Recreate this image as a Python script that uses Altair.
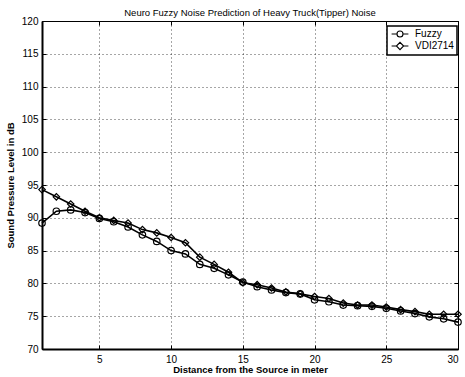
import altair as alt
import pandas as pd

distance = list(range(1, 31))
fuzzy = [89.2, 91.0, 91.2, 90.8, 89.9, 89.4, 88.6, 87.4, 86.4, 85.0,
         84.5, 82.9, 82.3, 81.3, 80.2, 79.5, 79.0, 78.6, 78.4, 77.5,
         77.2, 76.7, 76.6, 76.5, 76.2, 75.8, 75.4, 74.9, 74.6, 74.1]
vdi = [94.3, 93.2, 92.1, 91.0, 90.0, 89.6, 89.2, 88.2, 87.7, 87.0,
       86.2, 84.0, 82.9, 81.7, 80.1, 79.8, 79.3, 78.7, 78.4, 78.0,
       77.7, 77.0, 76.7, 76.7, 76.4, 76.0, 75.7, 75.3, 75.3, 75.3]
series_names = ["Fuzzy", "VDI2714"]
x_ticks = [5, 10, 15, 20, 25, 30]
y_ticks = [70, 75, 80, 85, 90, 95, 100, 105, 110, 115, 120]

rows = []
for i, d in enumerate(distance):
    rows.append({"d": d, "v": fuzzy[i], "s": series_names[0]})
    rows.append({"d": d, "v": vdi[i], "s": series_names[1]})
df = pd.DataFrame(rows)

FONT = "Liberation Sans"
xs = alt.Scale(domain=[1, 30], nice=False, zero=False)
ys = alt.Scale(domain=[70, 120], nice=False, zero=False)

base = alt.Chart(df)

# main layer with labelled axes, grid and domain
lines = base.mark_line(color="black", strokeWidth=1.6).encode(
    x=alt.X("d:Q", scale=xs, axis=alt.Axis(values=x_ticks, orient="bottom",
                                           title="Distance from the Source in meter")),
    y=alt.Y("v:Q", scale=ys, axis=alt.Axis(values=y_ticks, orient="left",
                                           title="Sound Pressure Level in dB")),
    detail="s:N")

points = base.mark_point(filled=False, color="black", strokeWidth=1.2, size=42, opacity=1).encode(
    x=alt.X("d:Q", scale=xs, axis=None),
    y=alt.Y("v:Q", scale=ys, axis=None),
    shape=alt.Shape("s:N", scale=alt.Scale(domain=series_names, range=["circle", "diamond"]), legend=None))

circ_leg = "M-2.8,0L-1,0M1,0L2.8,0M1,0A1,1 0 1,1 -1,0A1,1 0 1,1 1,0"
dia_leg = "M-2.8,0L-1.2,0M1.2,0L2.8,0M1.2,0L0,-1.2L-1.2,0L0,1.2Z"

legend_layer = base.mark_point(filled=False, color="black", opacity=0, size=36).encode(
    x=alt.X("d:Q", scale=xs, axis=None),
    y=alt.Y("v:Q", scale=ys, axis=None),
    shape=alt.Shape("s:N", scale=alt.Scale(domain=series_names, range=[circ_leg, dia_leg]),
                    legend=alt.Legend(title=None, orient="none", legendX=345, legendY=5,
                                      symbolOpacity=1, symbolStrokeColor="black",
                                      symbolFillColor="transparent", symbolStrokeWidth=1.1,
                                      symbolSize=36, labelFontSize=10, labelFont=FONT,
                                      labelColor="black", rowPadding=0, labelOffset=10,
                                      padding=3, strokeColor="black", fillColor="white",
                                      symbolOffset=5)))

TL = 4
tick_axis = dict(labels=False, domain=False, grid=False, ticks=True, tickSize=TL,
                 tickColor="black", tickWidth=1, title=None, offset=-TL)

ticks_bl = base.mark_point(opacity=0).encode(
    x=alt.X("d:Q", scale=xs, axis=alt.Axis(values=x_ticks, orient="bottom", **tick_axis)),
    y=alt.Y("v:Q", scale=ys, axis=alt.Axis(values=y_ticks, orient="left", **tick_axis)))
ticks_tr = base.mark_point(opacity=0).encode(
    x=alt.X("d:Q", scale=xs, axis=alt.Axis(values=x_ticks, orient="top", **tick_axis)),
    y=alt.Y("v:Q", scale=ys, axis=alt.Axis(values=y_ticks, orient="right", **tick_axis)))

chart = alt.layer(lines, points, legend_layer, ticks_bl, ticks_tr).resolve_scale(
    shape="independent").resolve_axis(x="independent", y="independent").properties(
    width=416, height=328,
    title=alt.TitleParams("Neuro Fuzzy Noise Prediction of Heavy Truck(Tipper) Noise",
                          font=FONT, fontSize=9.5, fontWeight="normal", color="black",
                          offset=-1, anchor="middle", frame="group"),
    autosize=alt.AutoSizeParams(type="none"),
    padding={"left": 42, "top": 21, "right": 7, "bottom": 28},
).configure_view(stroke="black", strokeWidth=1).configure_axis(
    grid=True, gridColor="black", gridDash=[1, 3], gridOpacity=0.7, gridWidth=1,
    domainColor="black", domainWidth=2, ticks=False,
    labelFont=FONT, labelFontSize=10, labelColor="black", labelPadding=4,
    titleFont=FONT, titleFontSize=9.5, titleFontWeight="bold", titleColor="black",
).configure_axisX(titlePadding=0, labelPadding=5).configure_axisY(titlePadding=6, labelPadding=4
).configure_legend(strokeWidth=1.5)

chart.save("out.html", embed_options={"renderer": "svg", "actions": False})
